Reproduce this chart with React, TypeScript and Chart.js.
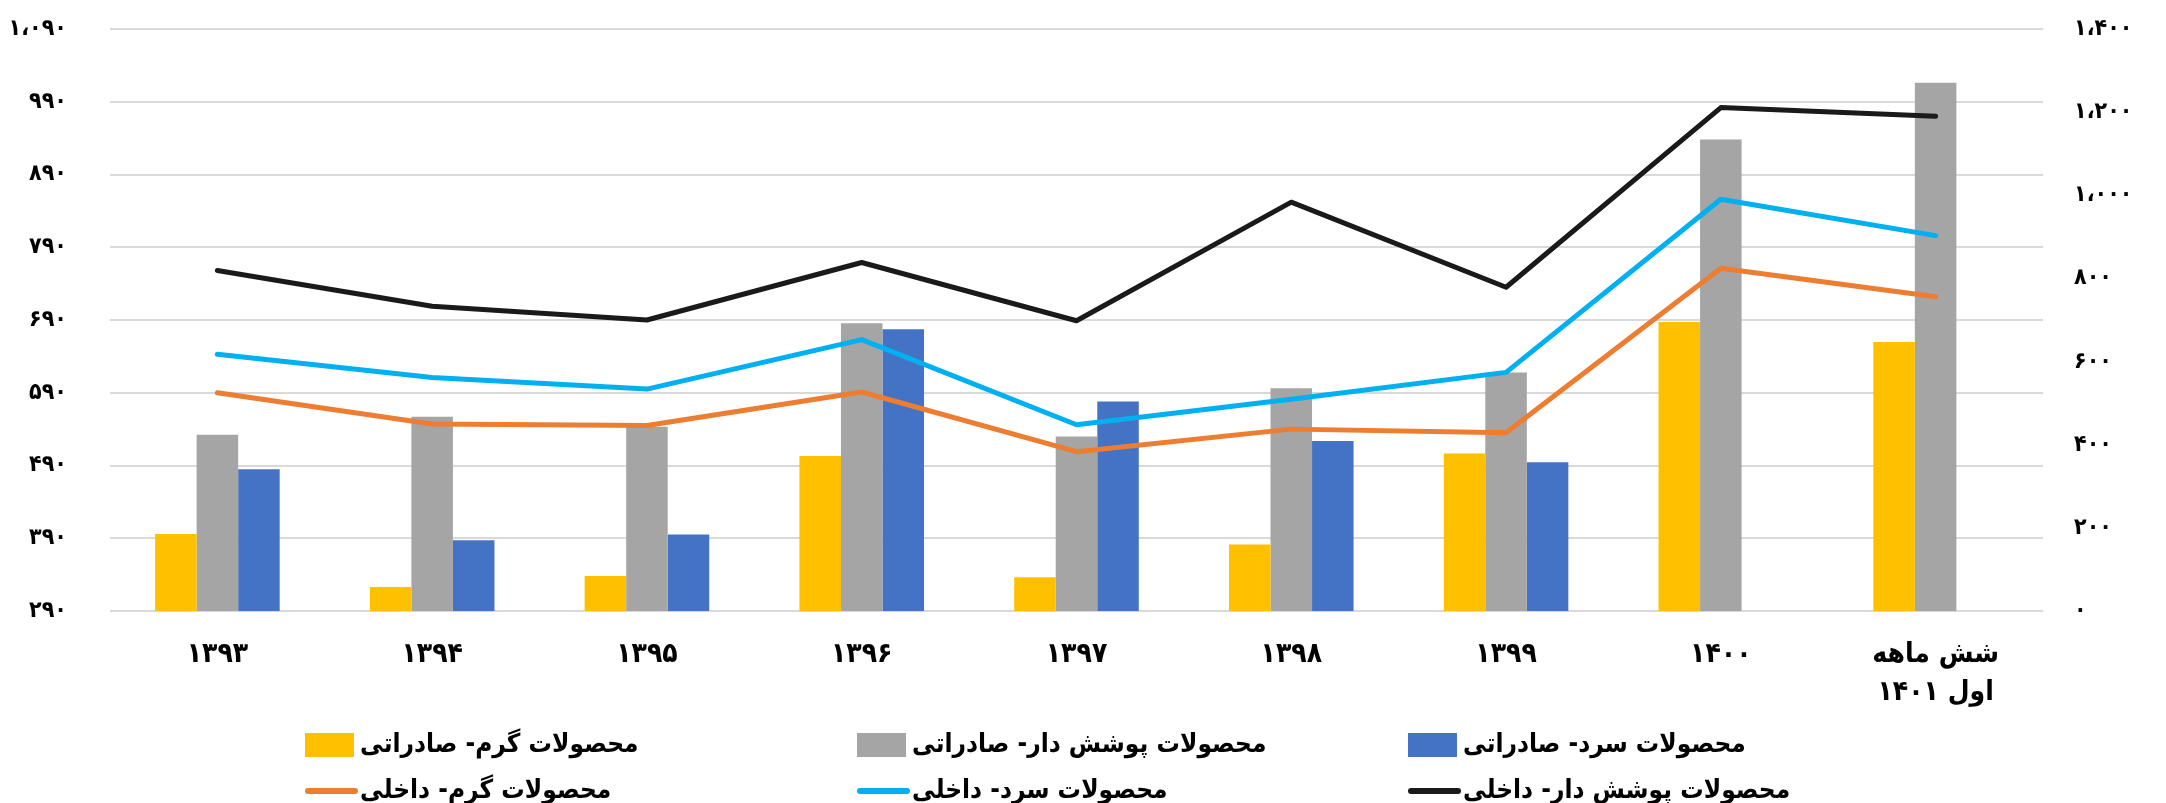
import React, { useEffect, useRef } from 'react';
import { Chart, registerables } from 'chart.js';

Chart.register(...registerables);

const categories: (string | string[])[] = ['۱۳۹۳', '۱۳۹۴', '۱۳۹۵', '۱۳۹۶', '۱۳۹۷', '۱۳۹۸', '۱۳۹۹', '۱۴۰۰', ['شش ماهه', 'اول ۱۴۰۱']];

// Exports (bars, right axis)
const hotExport = [185, 58, 84, 373, 81, 160, 379, 695, 647];
const coatedExport = [424, 467, 443, 692, 420, 536, 574, 1134, 1271];
const coldExport = [341, 170, 184, 678, 504, 409, 358, 0, 0];

// Domestic (lines, left axis)
const hotDomestic = [590, 547, 545, 591, 509, 540, 535, 761, 722];
const coldDomestic = [643, 611, 595, 663, 546, 581, 618, 856, 806];
const coatedDomestic = [758, 709, 690, 769, 689, 852, 735, 982, 970];

const leftTickLabels = ['۲۹۰', '۳۹۰', '۴۹۰', '۵۹۰', '۶۹۰', '۷۹۰', '۸۹۰', '۹۹۰', '۱،۰۹۰'];
const rightTickLabels = ['۰', '۲۰۰', '۴۰۰', '۶۰۰', '۸۰۰', '۱،۰۰۰', '۱،۲۰۰', '۱،۴۰۰'];

const seriesNames = [
  'محصولات گرم- صادراتی',
  'محصولات پوشش دار- صادراتی',
  'محصولات سرد- صادراتی',
  'محصولات گرم- داخلی',
  'محصولات سرد- داخلی',
  'محصولات پوشش دار- داخلی',
];

const FONT = '"DejaVu Sans Condensed", "DejaVu Sans", sans-serif';

const gridLegend = {
  id: 'gridLegend',
  afterDraw(chart: any) {
    const ctx = chart.ctx as CanvasRenderingContext2D;
    const cols = [305, 857, 1408];
    const rows = [745, 791];
    ctx.save();
    chart.data.datasets.forEach((ds: any, i: number) => {
      const x = cols[i % 3];
      const y = rows[Math.floor(i / 3)];
      if (ds.type === 'line') {
        ctx.strokeStyle = ds.borderColor;
        ctx.lineWidth = 6;
        ctx.lineCap = 'round';
        ctx.beginPath();
        ctx.moveTo(x + 3, y);
        ctx.lineTo(x + 50, y);
        ctx.stroke();
      } else {
        ctx.fillStyle = ds.backgroundColor;
        ctx.fillRect(x, y - 12, 49, 24);
      }
      ctx.fillStyle = '#000';
      ctx.font = `bold 26px ${FONT}`;
      ctx.textAlign = 'left';
      ctx.textBaseline = 'middle';
      ctx.fillText(ds.label, x + 55, y);
    });
    ctx.restore();
  },
};

export default function App() {
  const ref = useRef<HTMLCanvasElement>(null);
  useEffect(() => {
    if (!ref.current) return;
    const chart = new Chart(ref.current, {
      data: {
        labels: categories as any,
        datasets: [
          { type: 'bar', label: seriesNames[0], data: hotExport, backgroundColor: '#FFC000', yAxisID: 'yR', order: 2 },
          { type: 'bar', label: seriesNames[1], data: coatedExport, backgroundColor: '#A5A5A5', yAxisID: 'yR', order: 2 },
          { type: 'bar', label: seriesNames[2], data: coldExport, backgroundColor: '#4472C4', yAxisID: 'yR', order: 2 },
          { type: 'line', label: seriesNames[3], data: hotDomestic, borderColor: '#ED7D31', backgroundColor: '#ED7D31', borderWidth: 5, pointRadius: 0, yAxisID: 'yL', order: 1, borderCapStyle: 'round', borderJoinStyle: 'round' },
          { type: 'line', label: seriesNames[4], data: coldDomestic, borderColor: '#00B0F0', backgroundColor: '#00B0F0', borderWidth: 5, pointRadius: 0, yAxisID: 'yL', order: 1, borderCapStyle: 'round', borderJoinStyle: 'round' },
          { type: 'line', label: seriesNames[5], data: coatedDomestic, borderColor: '#1A1A1A', backgroundColor: '#1A1A1A', borderWidth: 5, pointRadius: 0, yAxisID: 'yL', order: 1, borderCapStyle: 'round', borderJoinStyle: 'round' },
        ] as any,
      },
      options: {
        responsive: false,
        animation: false,
        devicePixelRatio: 1,
        layout: { padding: { top: 29, left: 0, right: 0, bottom: 0 } },
        datasets: { bar: { categoryPercentage: 0.58, barPercentage: 1.0 } },
        plugins: { legend: { display: false }, tooltip: { enabled: false } },
        scales: {
          x: {
            grid: { display: false, drawTicks: false },
            border: { display: false },
            ticks: {
              color: '#000',
              font: { size: 28, weight: 'bold', family: FONT, lineHeight: 1.35 },
              padding: 25,
              maxRotation: 0,
              autoSkip: false,
            },
            afterFit(s: any) { s.height = 192; },
          },
          yL: {
            position: 'left',
            min: 290,
            max: 1090,
            ticks: {
              stepSize: 100,
              color: '#000',
              font: { size: 23, weight: 'bold', family: FONT },
              padding: 0,
              callback: (_v: any, i: number) => leftTickLabels[i],
            },
            grid: { color: '#D9D9D9', lineWidth: 2, drawTicks: true, tickLength: 43, tickColor: 'rgba(0,0,0,0)' },
            border: { display: false },
            afterFit(s: any) { s.width = 110; },
          },
          yR: {
            position: 'right',
            min: 0,
            max: 1400,
            ticks: {
              stepSize: 200,
              color: '#000',
              font: { size: 23, weight: 'bold', family: FONT },
              padding: 0,
              callback: (_v: any, i: number) => rightTickLabels[i],
            },
            grid: { display: false, drawTicks: true, tickLength: 31 },
            border: { display: false },
            afterFit(s: any) { s.width = 123; },
          },
        },
      } as any,
      plugins: [gridLegend],
    });
    return () => chart.destroy();
  }, []);
  return (
    <div style={{ position: 'absolute', left: 0, top: 0, width: 2166, height: 803, background: '#fff' }}>
      <canvas ref={ref} width={2166} height={803} style={{ display: 'block' }} />
    </div>
  );
}
